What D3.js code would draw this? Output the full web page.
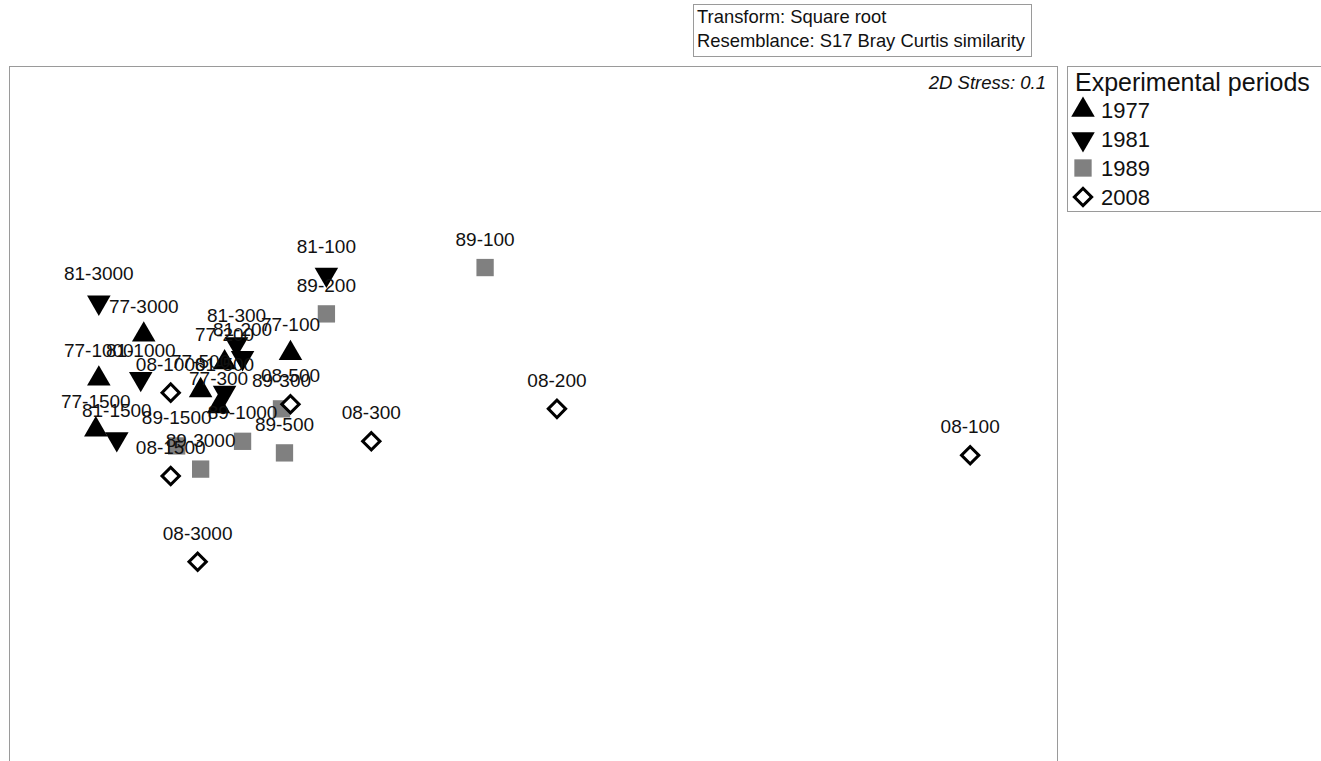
<!DOCTYPE html>
<html><head><meta charset="utf-8">
<script src="https://cdn.jsdelivr.net/npm/d3@7"></script>
<style>body{margin:0;background:#fff;} svg{display:block;font-family:"Liberation Sans",Arial,sans-serif;}</style>
</head><body>
<script>
// MDS coordinates per experimental period
const labels1977 = ["77-100","77-200","77-300","77-500","77-1000","77-1500","77-3000"];
const x1977 = [-0.56,-0.78,-0.80,-0.86,-1.20,-1.21,-1.05];
const y1977 = [0.26,0.22,0.03,0.10,0.15,-0.07,0.34];

const labels1981 = ["81-100","81-200","81-300","81-500","81-1000","81-1500","81-3000"];
const x1981 = [-0.44,-0.72,-0.74,-0.78,-1.06,-1.14,-1.20];
const y1981 = [0.60,0.24,0.30,0.09,0.15,-0.11,0.48];

const labels1989 = ["89-100","89-200","89-300","89-500","89-1000","89-1500","89-3000"];
const x1989 = [0.09,-0.44,-0.59,-0.58,-0.72,-0.94,-0.86];
const y1989 = [0.63,0.43,0.02,-0.17,-0.12,-0.14,-0.24];

const labels2008 = ["08-100","08-200","08-300","08-500","08-1000","08-1500","08-3000"];
const x2008 = [1.71,0.33,-0.29,-0.56,-0.96,-0.96,-0.87];
const y2008 = [-0.18,0.02,-0.12,0.04,0.09,-0.27,-0.64];

const periods = ["1977","1981","1989","2008"];
const legendTitle = "Experimental periods";
const stressText = "2D Stress: 0.1";
const infoLines = ["Transform: Square root","Resemblance: S17 Bray Curtis similarity"];

const W = 1321, H = 761;
const svg = d3.select("body").append("svg").attr("width", W).attr("height", H);

const plot = {x0: 9, x1: 1057, y0: 66, y1: 761};
const xS = d3.scaleLinear().domain([-1.5, 2.0]).range([plot.x0, plot.x1]);
const yS = d3.scaleLinear().domain([1.5, -1.5]).range([plot.y0, plot.y1]);

// plot frame
svg.append("rect").attr("x", plot.x0 + 0.5).attr("y", plot.y0 + 0.5)
  .attr("width", plot.x1 - plot.x0).attr("height", plot.y1 - plot.y0 + 5)
  .attr("fill", "none").attr("stroke", "#9a9a9a").attr("stroke-width", 1);

// info box
const info = svg.append("g");
info.append("rect").attr("x", 693.5).attr("y", 4.5).attr("width", 338).attr("height", 52)
  .attr("fill", "#fff").attr("stroke", "#9a9a9a");
infoLines.forEach((t, i) => info.append("text").attr("x", 697).attr("y", 23 + i * 24)
  .attr("font-size", 18.4).attr("fill", "#111").text(t));

svg.append("text").attr("x", 1046).attr("y", 89).attr("text-anchor", "end")
  .attr("font-size", 18.5).attr("font-style", "italic").attr("fill", "#111").text(stressText);

const symbols = {
  "1977": {type: d3.symbolTriangle, size: 240, fill: "#000", stroke: "none", rot: 0},
  "1981": {type: d3.symbolTriangle, size: 240, fill: "#000", stroke: "none", rot: 180},
  "1989": {type: d3.symbolSquare, size: 300, fill: "#808080", stroke: "none", rot: 0},
  "2008": {type: d3.symbolSquare, size: 150, fill: "#fff", stroke: "#000", rot: 45}
};

const series = [
  {p: "1977", labels: labels1977, xs: x1977, ys: y1977},
  {p: "1981", labels: labels1981, xs: x1981, ys: y1981},
  {p: "1989", labels: labels1989, xs: x1989, ys: y1989},
  {p: "2008", labels: labels2008, xs: x2008, ys: y2008}
];

function drawSym(g, p, cx, cy) {
  const s = symbols[p];
  g.append("path").attr("d", d3.symbol().type(s.type).size(s.size)())
    .attr("transform", `translate(${cx},${cy}) rotate(${s.rot})`)
    .attr("fill", s.fill).attr("stroke", s.stroke).attr("stroke-width", 3);
}

const gm = svg.append("g");
series.forEach(s => {
  s.labels.forEach((l, i) => drawSym(gm, s.p, xS(s.xs[i]), yS(s.ys[i])));
});
const gl = svg.append("g");
series.forEach(s => {
  s.labels.forEach((l, i) => {
    gl.append("text").attr("x", xS(s.xs[i])).attr("y", yS(s.ys[i]) - 22)
      .attr("text-anchor", "middle").attr("font-size", 19).attr("fill", "#111").text(l);
  });
});

// legend
const lg = svg.append("g");
lg.append("rect").attr("x", 1067.5).attr("y", 66.5).attr("width", 255).attr("height", 145)
  .attr("fill", "#fff").attr("stroke", "#9a9a9a");
lg.append("text").attr("x", 1075).attr("y", 91).attr("font-size", 25).attr("fill", "#111").text(legendTitle);
periods.forEach((p, i) => {
  const cy = 110 + i * 29;
  drawSym(lg, p, 1083, cy);
  lg.append("text").attr("x", 1101).attr("y", cy + 8).attr("font-size", 22).attr("fill", "#111").text(p);
});
</script>
</body></html>
